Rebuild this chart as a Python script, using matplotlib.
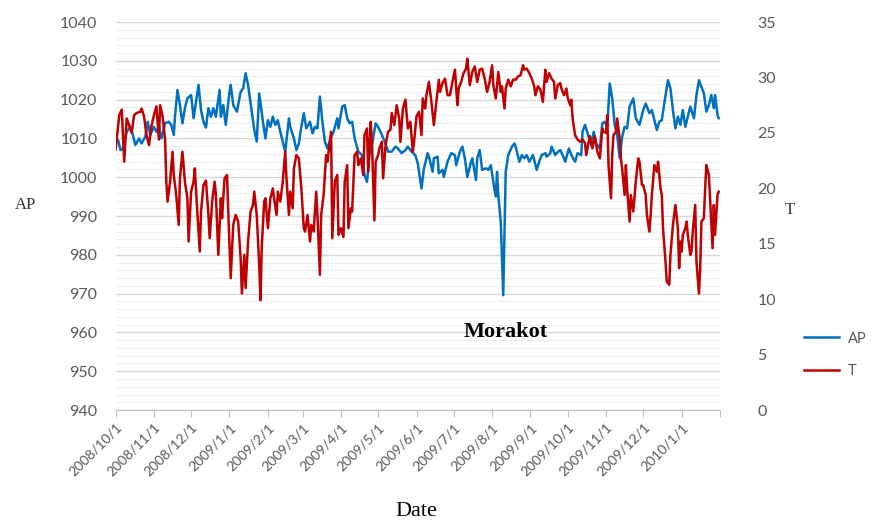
import numpy as np
import pandas as pd
import matplotlib
matplotlib.use("Agg")
import matplotlib.pyplot as plt
from matplotlib.ticker import MultipleLocator

## data: day offsets from 2008/10/1
ap_days = [0, 2, 4, 6, 9, 12, 14, 16, 19, 21, 24, 26, 28, 31, 33, 35, 37, 40, 43, 45, 47, 48, 50, 52, 54, 56, 58,
           61, 63, 67, 69, 71, 73, 75, 77, 79, 81, 84, 85, 87, 89, 92, 93, 95, 98, 101, 103, 105, 107, 110, 112, 114,
           116, 119, 121, 123, 125, 127, 129, 131, 133, 135, 137, 140, 141, 144, 146, 148, 150, 152, 154, 157, 159,
           161, 163, 165, 167, 169, 171, 174, 176, 179, 180, 183, 185, 187, 189, 191, 193, 196, 199, 201, 203, 205,
           207, 210, 212, 215, 218, 220, 223, 226, 228, 231, 234, 236, 239, 242, 244, 247, 249, 252, 253, 256, 257,
           260, 261, 264, 265, 268, 271, 274, 275, 278, 280, 282, 284, 287, 288, 291, 292, 294, 296, 299, 301, 303,
           305, 307, 308, 309, 311, 313, 314, 315, 317, 320, 322, 323, 326, 328, 330, 332, 334, 337, 340, 342, 344,
           347, 348, 351, 352, 355, 356, 359, 361, 363, 366, 368, 371, 373, 376, 377, 379, 382, 384, 386, 388, 391,
           393, 395, 397, 399, 401, 403, 405, 407, 409, 411, 413, 415, 418, 420, 423, 426, 428, 431, 433, 435, 437,
           439, 441, 443, 446, 448, 450, 452, 454, 456, 458, 460, 462, 464, 467, 469, 471, 473, 475, 477, 479, 481,
           483, 484, 486, 487]
ap_vals = [1008.7, 1009.6, 1007.0, 1007.4, 1011.7, 1013.0, 1010.9, 1008.3, 1010.0, 1008.7, 1010.4, 1014.3, 1010.9,
           1013.0, 1011.7, 1013.0, 1010.0, 1013.9, 1014.3, 1013.5, 1010.9, 1015.6, 1022.5, 1018.6, 1013.9, 1017.8,
           1020.3, 1021.2, 1015.2, 1023.8, 1017.3, 1014.3, 1012.8, 1017.8, 1015.6, 1017.8, 1015.6, 1022.5, 1015.6,
           1018.6, 1013.5, 1022.0, 1023.8, 1018.6, 1016.9, 1022.0, 1022.9, 1026.8, 1023.8, 1016.9, 1012.2, 1009.2,
           1021.6, 1014.3, 1010.0, 1014.7, 1013.0, 1015.6, 1013.5, 1014.7, 1011.7, 1009.2, 1006.6, 1015.2, 1013.0,
           1010.0, 1007.0, 1008.7, 1013.0, 1016.5, 1012.6, 1014.3, 1011.3, 1013.0, 1012.6, 1020.8, 1014.3, 1009.2,
           1007.4, 1010.4, 1011.7, 1015.2, 1012.6, 1018.2, 1018.6, 1015.2, 1013.9, 1014.3, 1010.0, 1006.6, 1005.7,
           1000.6, 998.8, 1005.7, 1008.3, 1013.9, 1013.0, 1010.9, 1008.7, 1006.6, 1006.6, 1007.9, 1007.4, 1006.2,
           1007.0, 1007.9, 1006.6, 1005.7, 1003.6, 997.1, 1002.3, 1006.2, 1005.3, 1001.4, 1004.9, 1005.3, 1001.0,
           1001.9, 1000.1, 1004.0, 1006.2, 1005.7, 1003.1, 1006.6, 1007.9, 1004.9, 1000.1, 1004.0, 1004.9, 999.3,
           1004.9, 1007.0, 1001.9, 1002.3, 1001.9, 1003.1, 998.8, 995.0, 1001.4, 995.4, 988.5, 969.6, 986.0, 1001.4,
           1005.7, 1007.9, 1008.7, 1007.9, 1004.0, 1005.7, 1004.9, 1005.7, 1004.0, 1005.7, 1001.9, 1004.0, 1005.7,
           1006.2, 1005.3, 1006.2, 1007.9, 1005.7, 1006.2, 1007.0, 1005.7, 1004.0, 1007.4, 1005.7, 1004.0, 1006.2,
           1005.7, 1011.7, 1013.5, 1010.4, 1008.3, 1011.7, 1008.7, 1007.4, 1013.9, 1014.3, 1013.0, 1024.2, 1020.3,
           1013.5, 1010.9, 1004.9, 1010.4, 1013.0, 1012.6, 1018.2, 1020.3, 1015.2, 1013.5, 1017.3, 1019.0, 1016.5,
           1017.3, 1014.7, 1012.2, 1014.3, 1014.7, 1019.0, 1025.0, 1022.9, 1017.3, 1012.6, 1015.6, 1013.5, 1017.3,
           1013.0, 1015.6, 1018.2, 1015.2, 1021.2, 1025.0, 1023.3, 1021.6, 1016.9, 1018.6, 1021.2, 1017.8, 1021.2,
           1016.0, 1015.2]

t_days = [0, 1, 3, 5, 7, 9, 11, 13, 15, 17, 20, 21, 23, 25, 27, 29, 31, 33, 35, 36, 38, 40, 41, 42, 44, 46, 47, 49,
          51, 52, 54, 56, 58, 59, 61, 63, 64, 66, 68, 69, 71, 73, 75, 76, 78, 80, 81, 83, 85, 86, 88, 90, 91, 93, 95,
          97, 99, 101, 102, 104, 105, 107, 109, 111, 112, 114, 116, 117, 118, 120, 121, 123, 125, 127, 128, 130, 131,
          133, 135, 137, 138, 140, 141, 143, 144, 146, 148, 150, 152, 153, 155, 157, 158, 160, 162, 163, 165, 166,
          168, 170, 171, 174, 175, 177, 179, 180, 182, 184, 185, 187, 188, 190, 191, 193, 195, 196, 198, 200, 201,
          203, 204, 206, 207, 209, 210, 212, 213, 215, 216, 218, 220, 222, 223, 225, 227, 229, 230, 232, 234, 236,
          238, 240, 241, 243, 245, 247, 248, 250, 251, 253, 255, 257, 259, 261, 262, 264, 266, 268, 270, 272, 274,
          276, 277, 279, 281, 283, 284, 286, 288, 290, 292, 294, 296, 298, 300, 302, 304, 305, 307, 309, 311, 312,
          314, 315, 317, 319, 321, 323, 325, 327, 329, 330, 332, 334, 336, 338, 339, 341, 343, 345, 347, 348, 350,
          352, 354, 355, 357, 359, 360, 362, 364, 365, 367, 368, 369, 371, 373, 375, 377, 379, 380, 382, 383, 385,
          387, 389, 391, 393, 394, 396, 397, 398, 400, 401, 402, 404, 405, 407, 408, 409, 411, 412, 413, 415, 416,
          418, 420, 422, 423, 425, 426, 428, 429, 431, 432, 433, 435, 437, 438, 440, 441, 442, 444, 445, 447, 448,
          450, 452, 454, 455, 456, 457, 458, 460, 461, 462, 464, 465, 466, 468, 469, 471, 472, 473, 475, 476, 477,
          479, 480, 482, 483, 484, 486, 487]
t_vals = [23.5, 24.5, 26.6, 27.1, 22.4, 26.3, 25.7, 25.0, 26.6, 26.8, 26.9, 27.2, 26.5, 24.8, 23.9, 25.6, 26.6, 27.4,
          24.4, 27.5, 26.5, 24.4, 20.6, 18.8, 20.6, 23.3, 21.2, 19.4, 16.7, 20.9, 23.3, 20.6, 19.1, 15.2, 19.7, 20.6,
          21.8, 17.9, 14.3, 17.9, 20.3, 20.7, 17.6, 15.5, 18.8, 20.6, 19.4, 14.0, 19.1, 17.3, 20.9, 21.2, 17.9, 11.9,
          16.7, 17.6, 17.0, 13.7, 10.5, 14.0, 11.0, 15.2, 17.9, 18.5, 19.7, 17.6, 13.1, 9.9, 14.6, 18.8, 19.1, 16.4,
          19.1, 20.0, 19.1, 17.6, 19.7, 18.8, 20.6, 23.3, 20.9, 17.6, 19.7, 18.2, 21.8, 23.0, 22.7, 20.0, 16.4, 16.1,
          17.6, 15.2, 16.7, 16.1, 19.7, 17.6, 12.2, 17.6, 19.4, 23.0, 22.4, 25.1, 15.5, 20.6, 21.2, 15.8, 16.4, 15.6,
          20.6, 22.1, 16.4, 18.2, 17.9, 23.0, 23.3, 22.1, 22.7, 21.2, 24.8, 25.4, 21.5, 26.0, 24.2, 17.1, 22.4, 23.0,
          23.6, 24.2, 20.9, 23.9, 25.1, 25.3, 26.8, 25.7, 27.5, 26.3, 24.2, 27.2, 28.0, 25.4, 26.0, 23.3, 24.2, 26.5,
          26.9, 24.8, 28.1, 27.2, 28.4, 29.6, 27.8, 25.7, 27.8, 29.8, 28.7, 29.5, 29.9, 28.4, 28.4, 29.6, 30.7, 27.5,
          29.0, 29.6, 30.4, 30.8, 31.7, 29.3, 30.5, 31.0, 29.6, 30.7, 30.8, 29.9, 28.7, 29.6, 31.1, 29.3, 28.1, 30.5,
          28.7, 29.2, 27.2, 29.0, 29.8, 29.2, 29.8, 29.8, 30.1, 30.2, 31.1, 30.7, 30.8, 30.4, 29.9, 29.2, 28.4, 29.2,
          28.9, 27.8, 30.7, 29.6, 30.4, 29.9, 29.6, 28.1, 29.3, 29.5, 29.0, 28.4, 29.0, 28.2, 27.5, 28.0, 26.3, 24.8,
          24.4, 24.2, 24.4, 24.1, 23.0, 24.2, 24.7, 23.6, 24.7, 23.3, 22.7, 25.4, 25.1, 25.0, 26.6, 22.1, 19.1, 23.0,
          24.8, 25.1, 26.3, 24.5, 22.7, 21.8, 19.4, 22.1, 20.0, 17.0, 19.4, 17.9, 20.6, 22.7, 22.4, 20.3, 20.3, 19.4,
          17.6, 16.1, 17.6, 19.4, 22.1, 21.5, 22.4, 20.0, 19.4, 16.4, 13.4, 11.6, 11.3, 14.0, 16.7, 18.5, 16.4, 12.8,
          15.2, 14.3, 15.8, 16.4, 17.0, 15.8, 14.0, 14.3, 16.1, 18.5, 13.4, 10.5, 12.8, 17.0, 17.3, 20.0, 22.1, 21.2,
          19.1, 14.6, 18.5, 15.8, 19.4, 19.7]

start = np.datetime64("2008-10-01")
ap_dates = start + np.array(ap_days).astype("timedelta64[D]")
t_dates = start + np.array(t_days).astype("timedelta64[D]")

months = pd.date_range("2008-10-01", "2010-02-01", freq="MS")
month_labels = [f"{d.year}/{d.month}/{d.day}" for d in months[:-1]] + [""]

grey = "#595959"
serif = "Liberation Serif"
sans = "Lato"

fig = plt.figure(figsize=(8.74, 5.25), dpi=100)
ax = fig.add_axes([0.1322, 0.219, 0.6916, 0.739])
ax2 = ax.twinx()

ax.plot(ap_dates, ap_vals, color="#0070c0", lw=1.8, label="AP", solid_joinstyle="round")
ax2.plot(t_dates, t_vals, color="#c00000", lw=1.8, label="T", solid_joinstyle="round")

ax.set_xlim(months[0], months[-1])
ax.set_ylim(940, 1040)
ax2.set_ylim(0, 35)
ax.yaxis.set_major_locator(MultipleLocator(10))
ax.yaxis.set_minor_locator(MultipleLocator(2))
ax2.yaxis.set_major_locator(MultipleLocator(5))

ax.set_xticks(months)
ax.set_xticklabels(month_labels, rotation=45, ha="right", va="top", rotation_mode="anchor",
                   fontsize=10, color=grey, family=sans)
ax.grid(axis="y", which="major", color="#d9d9d9", lw=1.0)
ax.grid(axis="y", which="minor", color="#efefef", lw=0.8)
ax.set_axisbelow(True)

for a in (ax, ax2):
    for s in ("top", "left", "right"):
        a.spines[s].set_visible(False)
ax2.spines["bottom"].set_visible(False)
ax.spines["bottom"].set_color("#bfbfbf")

ax.tick_params(axis="x", length=5, color="#bfbfbf", pad=3)
ax.tick_params(axis="y", which="both", length=0, pad=13, labelsize=11.5, labelcolor=grey)
ax2.tick_params(axis="y", length=0, pad=27, labelsize=11.5, labelcolor=grey)
for lab in ax.get_yticklabels() + ax2.get_yticklabels():
    lab.set_family(sans)

ax.text(np.datetime64("2009-08-12"), 960, "Morakot", ha="center", va="center",
        fontsize=16, fontweight="bold", family=serif)

fig.text(25 / 874, 1 - 205 / 525, "AP", ha="center", va="center", fontsize=12, family=serif, color="#333333")
fig.text(790 / 874, 1 - 210 / 525, "T", ha="center", va="center", fontsize=12, family=serif, color="#333333")
fig.text(416 / 874, 1 - 512 / 525, "Date", ha="center", va="center", fontsize=16, family=serif)

h1, l1 = ax.get_legend_handles_labels()
h2, l2 = ax2.get_legend_handles_labels()
fig.legend(h1 + h2, l1 + l2, loc="center left", bbox_to_anchor=(804 / 874, 1 - 355 / 525),
           frameon=False, handlelength=2.4, handletextpad=0.6, borderpad=0, borderaxespad=0,
           labelspacing=1.3, prop={"family": sans, "size": 10.5}, labelcolor=grey)

fig.savefig("out.png", dpi=100)
